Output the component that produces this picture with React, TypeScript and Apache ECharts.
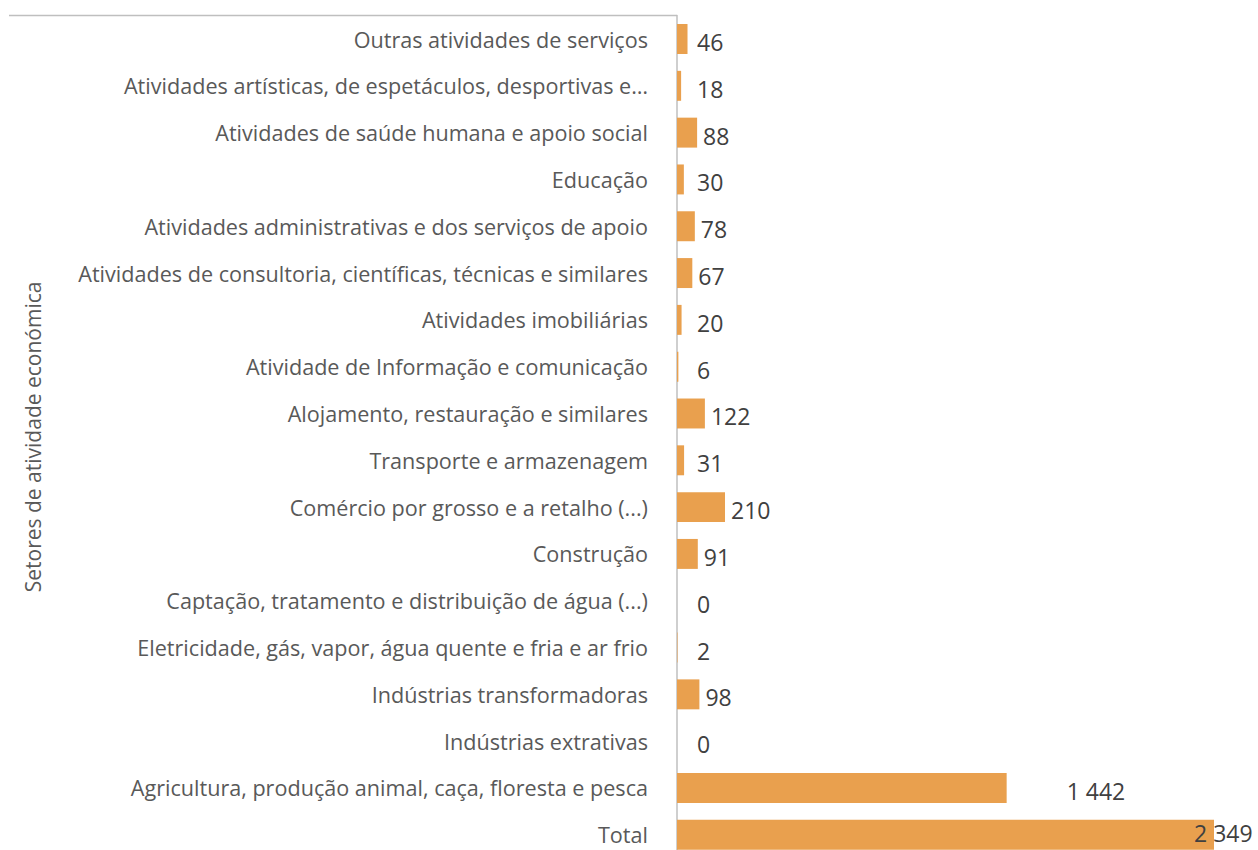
import React, { useEffect, useRef } from "react";
import * as echarts from "echarts";

const categories = [
  "Outras atividades de serviços",
  "Atividades artísticas, de espetáculos, desportivas e…",
  "Atividades de saúde humana e apoio social",
  "Educação",
  "Atividades administrativas e dos serviços de apoio",
  "Atividades de consultoria, científicas, técnicas e similares",
  "Atividades imobiliárias",
  "Atividade de Informação e comunicação",
  "Alojamento, restauração e similares",
  "Transporte e armazenagem",
  "Comércio por grosso e a retalho (...)",
  "Construção",
  "Captação, tratamento e distribuição de água (...)",
  "Eletricidade, gás, vapor, água quente e fria e ar frio",
  "Indústrias transformadoras",
  "Indústrias extrativas",
  "Agricultura, produção animal, caça, floresta e pesca",
  "Total",
];

const values = [46, 18, 88, 30, 78, 67, 20, 6, 122, 31, 210, 91, 0, 2, 98, 0, 1442, 2349];

const axisName = "Setores de atividade económica";
const xMax = 2349;

const FONT = "Open Sans";

function fmt(v: number): string {
  return String(v).replace(/\B(?=(\d{3})+(?!\d))/g, " ");
}

export default function App() {
  const ref = useRef<HTMLDivElement>(null);
  useEffect(() => {
    if (!ref.current) return;
    const chart = echarts.init(ref.current, undefined, { renderer: "svg" });
    const gridLeft = 677;
    const gridRight = 44;
    const plotW = 1258 - gridLeft - gridRight;
    const pxPerUnit = plotW / xMax;
    const cats = categories.slice().reverse();
    const vals = values.slice().reverse();
    const data = vals.map((v) => {
      const barPx = v * pxPerUnit;
      let label: any;
      if (barPx + 6 < 20) {
        label = { position: "insideLeft", distance: 20, offset: [0, 3] };
      } else if (v > 2000) {
        label = { position: "right", distance: 6, offset: [-26, -2], lineHeight: 24 };
      } else if (v > 1000) {
        label = { position: "right", distance: 6, offset: [54, 3] };
      } else {
        label = { position: "right", distance: 6, offset: [0, 3] };
      }
      return { value: v, label };
    });
    chart.setOption({
      animation: false,
      textStyle: { fontFamily: FONT },
      grid: {
        left: gridLeft,
        right: gridRight,
        top: 15.6,
        height: 842.6,
        containLabel: false,
        outerBoundsMode: "none",
      },
      xAxis: {
        type: "value",
        min: 0,
        max: xMax,
        show: false,
      },
      yAxis: {
        type: "category",
        data: cats,
        name: axisName,
        nameLocation: "middle",
        nameGap: 634,
        nameRotate: 90,
        nameTextStyle: { fontFamily: FONT, fontSize: 21, color: "#595959" },
        axisLine: { show: true, lineStyle: { color: "#BFBFBF", width: 1.5 } },
        axisTick: { show: false },
        axisLabel: { fontFamily: FONT, fontSize: 21.6, color: "#595959", margin: 29 },
      },
      series: [
        {
          type: "bar",
          data,
          barWidth: "64%",
          itemStyle: { color: "#E9A04E" },
          label: {
            show: true,
            formatter: (p: any) => fmt(p.value),
            fontFamily: FONT,
            fontSize: 23,
            color: "#404040",
          },
        },
      ],
      graphic: [
        {
          type: "line",
          shape: { x1: 9, y1: 15.5, x2: 677, y2: 15.5 },
          style: { stroke: "#BFBFBF", lineWidth: 1.5 },
        },
      ],
    });
    return () => chart.dispose();
  }, []);
  return (
    <div
      ref={ref}
      style={{ position: "absolute", left: 0, top: 0, width: 1258, height: 850 }}
    />
  );
}
